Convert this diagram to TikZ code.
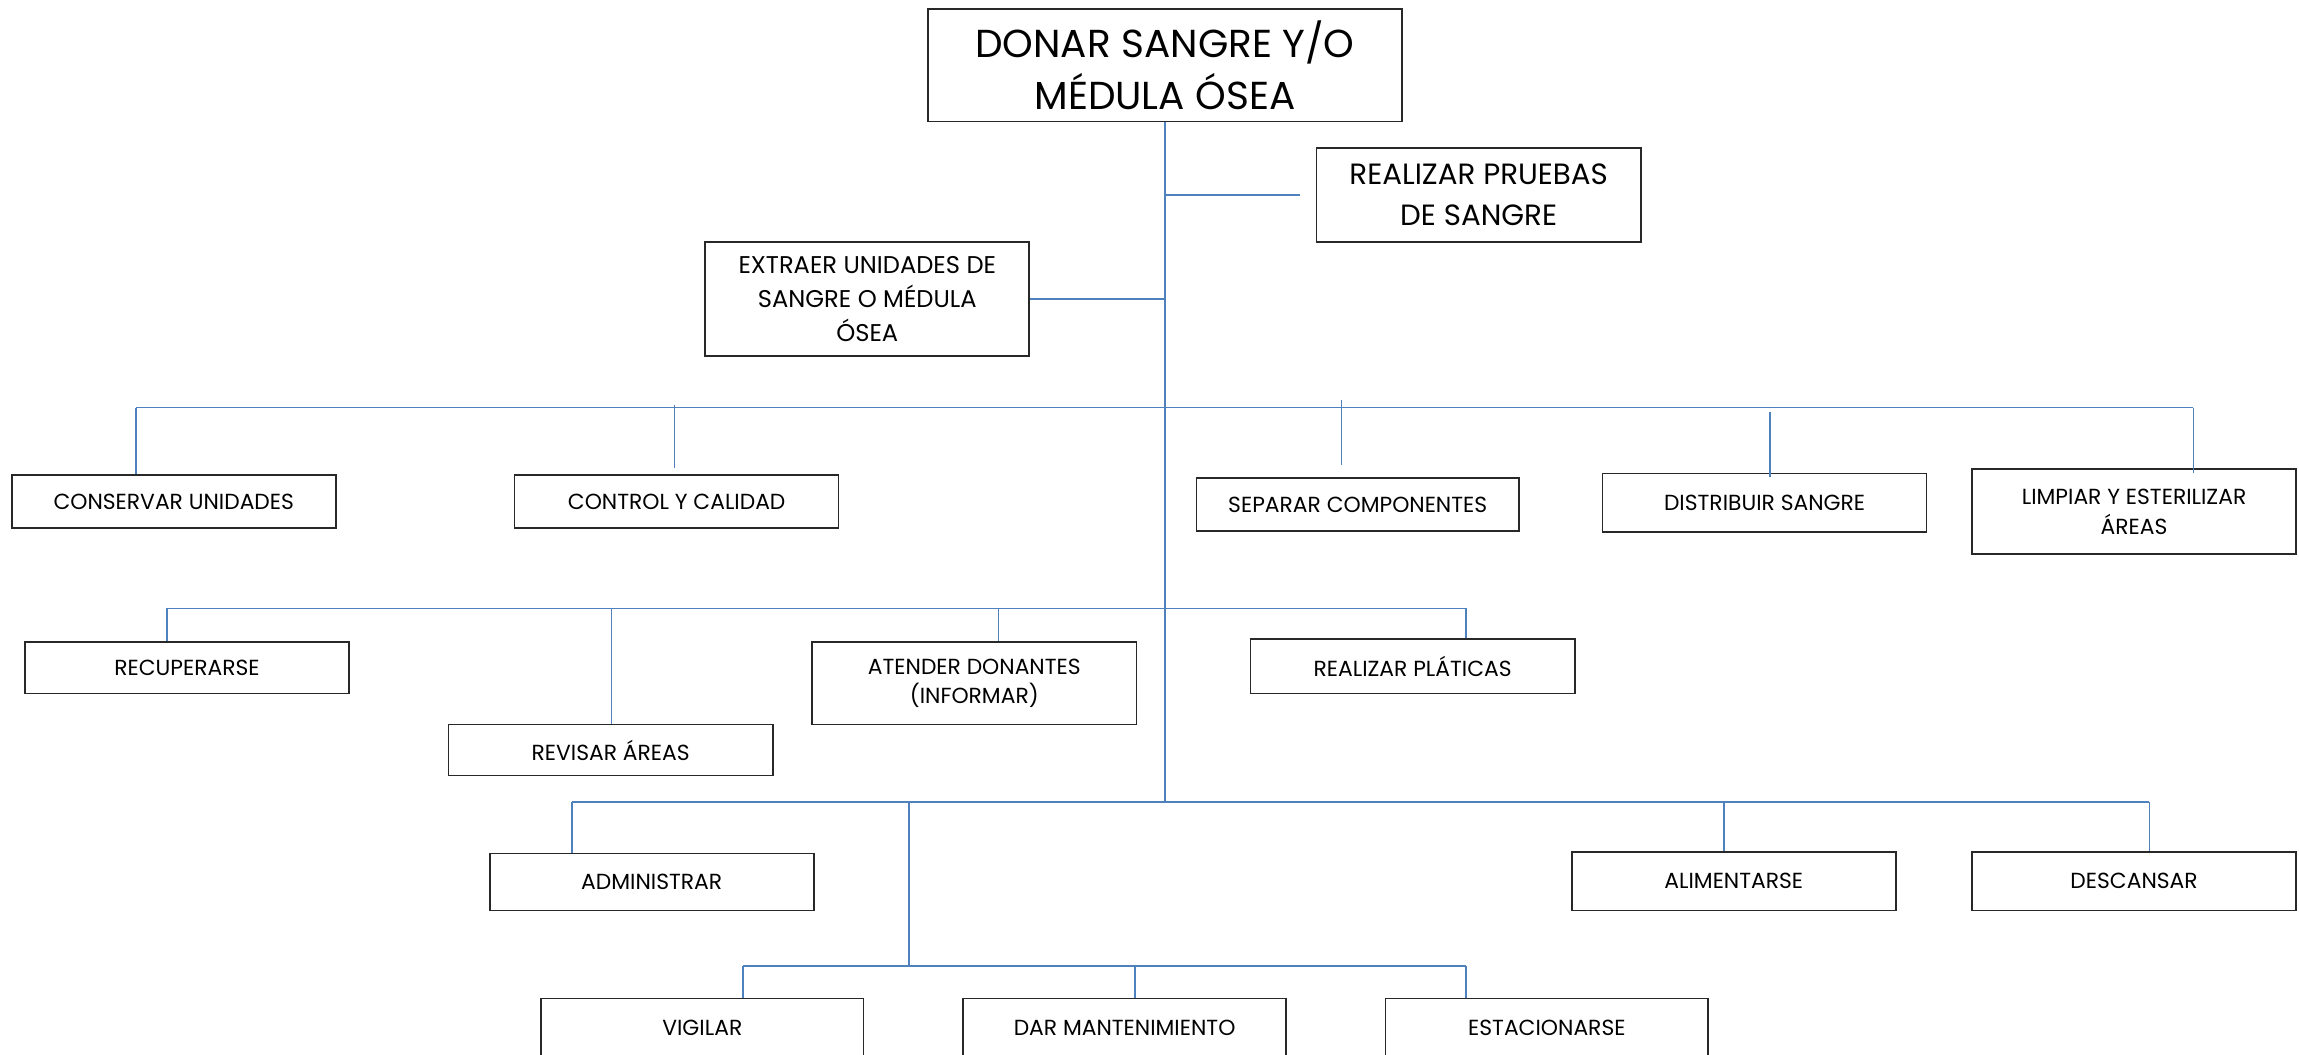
\documentclass[tikz,border=0pt]{standalone}
\usepackage{fontspec}
\setmainfont{Poppins}
\usetikzlibrary{calc}
\definecolor{linkblue}{RGB}{79,129,189}
\definecolor{boxline}{RGB}{40,40,40}
\begin{document}
\begin{tikzpicture}[x=1pt,y=-1pt,
  box/.style={draw=boxline, line width=1.1pt, rectangle, inner sep=0pt,
    align=center, text=black, minimum width=221pt},
  ftop/.style={font=\fontsize{26.6}{35}\selectfont},
  fsub/.style={font=\fontsize{20}{28}\selectfont},
  fmid/.style={font=\fontsize{16.5}{23}\selectfont},
  fsm/.style={font=\fontsize{14.9}{20}\selectfont},
  lift/.style={text depth=#1},
  link/.style={draw=linkblue, line width=1.2pt},
]
\useasboundingbox (0,0) rectangle (1568,719);
\clip (0,0) rectangle (1568,719);

% --- boxes -------------------------------------------------------------
\node[box, ftop, minimum width=323pt, minimum height=77pt] (top) at (794.5,44.5)
  {DONAR SANGRE Y/O\\MÉDULA ÓSEA};
\node[box, fsub, minimum height=64pt] (pruebas) at (1008.5,133)
  {REALIZAR PRUEBAS\\DE SANGRE};
\node[box, fmid, minimum height=78pt] (extraer) at (591.5,204)
  {EXTRAER UNIDADES DE\\SANGRE O MÉDULA\\ÓSEA};

\node[box, fsm, minimum height=36pt] (conservar) at (118.5,342) {CONSERVAR UNIDADES};
\node[box, fsm, minimum height=36pt] (control) at (461.5,342) {CONTROL Y CALIDAD};
\node[box, fsm, minimum width=220pt, minimum height=36pt] (separar) at (926,344) {SEPARAR COMPONENTES};
\node[box, fsm, minimum height=40pt] (distribuir) at (1203.5,343) {DISTRIBUIR SANGRE};
\node[box, fsm, minimum height=58pt] (limpiar) at (1455.5,349)
  {LIMPIAR Y ESTERILIZAR\\ÁREAS};

\node[box, fsm, minimum height=35pt] (recuperarse) at (127.5,455.5) {RECUPERARSE};
\node[box, fsm, minimum height=35pt] (revisar) at (416.5,511.5) {REVISAR ÁREAS};
\node[box, fsm, minimum height=56pt] (atender) at (664.5,466)
  {ATENDER DONANTES\\(INFORMAR)};
\node[box, fsm, minimum height=37pt] (platicas) at (963.5,454.5) {REALIZAR PLÁTICAS};

\node[box, fsm, minimum height=39pt] (administrar) at (444.5,601.5) {ADMINISTRAR};
\node[box, fsm, minimum height=40pt] (alimentarse) at (1182.5,601) {ALIMENTARSE};
\node[box, fsm, minimum height=40pt] (descansar) at (1455.5,601) {DESCANSAR};

\node[box, fsm, minimum width=220pt, minimum height=40pt] (vigilar) at (479,701) {VIGILAR};
\node[box, fsm, minimum width=220pt, minimum height=40pt] (dar) at (767,701) {DAR MANTENIMIENTO};
\node[box, fsm, minimum width=220pt, minimum height=40pt] (estacionarse) at (1055,701) {ESTACIONARSE};

% --- bus levels ----------------------------------------------------------
\coordinate (bus1) at (795,278);
\coordinate (bus2) at (795,415);
\coordinate (bus3) at (795,547);
\coordinate (bus4) at (620,659);

% drop points on the box tops
\coordinate (d1a) at ($(conservar.north)+(-25.5,0)$);
\coordinate (d1b) at ($(control.north)+(-1.5,0)$);
\coordinate (d1c) at ($(separar.north)+(-11,0)$);
\coordinate (d1d) at ($(distribuir.north)+(3.5,0)$);
\coordinate (d1e) at ($(limpiar.north)+(40.5,0)$);
\coordinate (d2a) at ($(recuperarse.north)+(-13.5,0)$);
\coordinate (d2b) at ($(revisar.north)+(0.5,0)$);
\coordinate (d2c) at ($(atender.north)+(16.5,0)$);
\coordinate (d2d) at ($(platicas.north)+(36.5,0)$);
\coordinate (d3a) at ($(administrar.north)+(-54.5,0)$);
\coordinate (d3b) at ($(alimentarse.north)+(-6.5,0)$);
\coordinate (d3c) at ($(descansar.north)+(10.5,0)$);
\coordinate (d4a) at ($(vigilar.north)+(28,0)$);
\coordinate (d4b) at ($(dar.north)+(7,0)$);
\coordinate (d4c) at ($(estacionarse.north)+(-55,0)$);

% --- connectors ----------------------------------------------------------
\draw[link] (top.south) -- (top.south |- bus3);
\draw[link] (top.south |- pruebas.west) -- ($(pruebas.west)+(-11,0)$);
\draw[link] (extraer.east) -- (extraer.east -| top.south);

\draw[link] (d1a |- bus1) -- (d1e |- bus1);
\draw[link] (d1a |- bus1) -- (d1a);
\draw[link, shorten <=-2pt, shorten >=4pt] (d1b |- bus1) -- (d1b);
\draw[link, shorten <=-5pt, shorten >=8pt] (d1c |- bus1) -- (d1c);
\draw[link, shorten <=3pt, shorten >=-3pt] (d1d |- bus1) -- (d1d);
\draw[link, shorten >=-3pt] (d1e |- bus1) -- (d1e);

\draw[link] (d2a |- bus2) -- (d2d |- bus2);
\draw[link] (d2a |- bus2) -- (d2a);
\draw[link] (d2b |- bus2) -- (d2b);
\draw[link] (d2c |- bus2) -- (d2c);
\draw[link] (d2d |- bus2) -- (d2d);

\draw[link] (d3a |- bus3) -- (d3c |- bus3);
\draw[link] (d3a |- bus3) -- (d3a);
\draw[link] (d3b |- bus3) -- (d3b);
\draw[link] (d3c |- bus3) -- (d3c);
\draw[link] (bus4 |- bus3) -- (bus4);

\draw[link] (d4a |- bus4) -- (d4c |- bus4);
\draw[link] (d4a |- bus4) -- (d4a);
\draw[link] (d4b |- bus4) -- (d4b);
\draw[link] (d4c |- bus4) -- (d4c);
\end{tikzpicture}
\end{document}
